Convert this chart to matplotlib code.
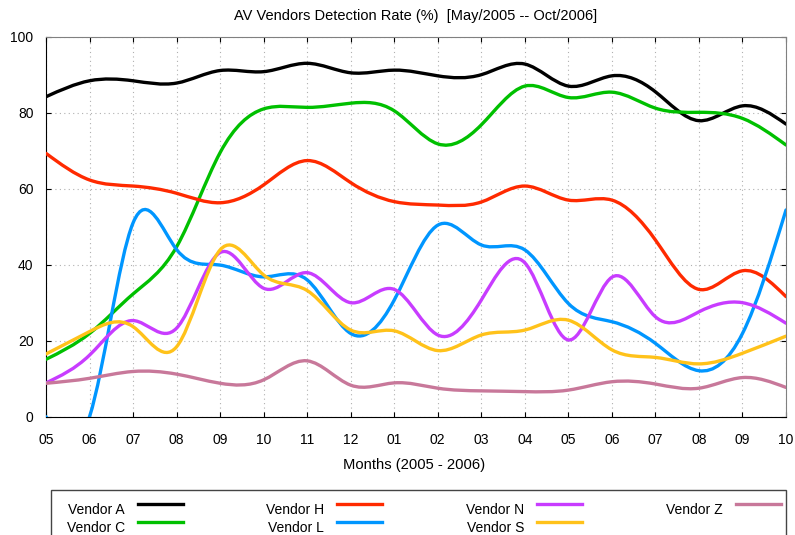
import numpy as np
import matplotlib
matplotlib.use("Agg")
import matplotlib.pyplot as plt
from matplotlib.path import Path
from matplotlib.patches import PathPatch, Rectangle
from matplotlib.lines import Line2D

plt.rcParams["font.family"] = ["Liberation Sans", "DejaVu Sans"]

# monthly detection rates (%), May 2005 .. Oct 2006
months = ["05", "06", "07", "08", "09", "10", "11", "12", "01",
          "02", "03", "04", "05", "06", "07", "08", "09", "10"]
vendor_a = [84.2, 88.4, 88.4, 87.8, 91.1, 90.8, 93.0, 90.5, 91.2,
            89.7, 90.0, 92.8, 87.0, 89.7, 85.5, 77.9, 81.8, 77.0]
vendor_c = [15.1, 21.9, 32.3, 44.7, 69.5, 81.0, 81.4, 82.5, 80.5,
            71.8, 76.8, 87.0, 84.0, 85.4, 81.2, 80.1, 78.5, 71.5]
vendor_h = [69.3, 62.3, 60.7, 58.8, 56.3, 61.0, 67.4, 61.6, 56.6,
            55.7, 56.5, 60.7, 57.0, 57.0, 46.5, 33.5, 38.4, 31.6]
vendor_l = [0.0, 0.0, 51.0, 44.0, 39.9, 36.8, 36.0, 21.9, 30.7,
            50.4, 45.2, 43.9, 29.8, 25.0, 19.3, 12.1, 21.9, 54.4]
vendor_n = [8.9, 16.2, 25.3, 23.3, 43.2, 33.8, 37.9, 30.0, 33.5,
            21.5, 30.7, 40.5, 20.2, 36.7, 26.3, 27.6, 30.0, 24.6]
vendor_s = [16.5, 22.4, 23.7, 18.4, 43.9, 37.3, 33.2, 22.8, 22.6,
            17.4, 21.5, 22.8, 25.4, 17.6, 15.6, 13.9, 16.7, 21.2]
vendor_z = [8.8, 10.1, 11.9, 11.2, 8.8, 9.7, 14.7, 8.3, 8.9,
            7.5, 6.8, 6.6, 7.0, 9.2, 8.6, 7.5, 10.3, 7.7]

names = ["Vendor A", "Vendor C", "Vendor H", "Vendor L",
         "Vendor N", "Vendor S", "Vendor Z"]
series = [vendor_a, vendor_c, vendor_h, vendor_l, vendor_n, vendor_s, vendor_z]
colors = ["#000000", "#00c000", "#ff2a00", "#0096ff",
          "#c83cff", "#ffc21a", "#c8789a"]


def spline_path(y):
    """Natural cubic spline through the points (gnuplot csplines),
    written as bezier segments so matplotlib draws the curve itself."""
    y = np.asarray(y, float)
    n = len(y)
    A = np.zeros((n, n))
    r = np.zeros(n)
    A[0, 0] = A[-1, -1] = 1
    for i in range(1, n - 1):
        A[i, i - 1:i + 2] = 1, 4, 1
        r[i] = 6 * (y[i + 1] - 2 * y[i] + y[i - 1])
    M = np.linalg.solve(A, r)
    verts = [(0, y[0])]
    codes = [Path.MOVETO]
    for i in range(n - 1):
        d = y[i + 1] - y[i]
        s0 = d - (2 * M[i] + M[i + 1]) / 6
        s1 = d + (M[i] + 2 * M[i + 1]) / 6
        verts += [(i + 1 / 3, y[i] + s0 / 3), (i + 2 / 3, y[i + 1] - s1 / 3),
                  (i + 1, y[i + 1])]
        codes += [Path.CURVE4] * 3
    return Path(verts, codes)


W, H = 795, 535
fig = plt.figure(figsize=(W / 100, H / 100), dpi=100)
ax = fig.add_axes([46 / W, 1 - 416.7 / H, 740 / W, 380 / H])

for vals, col in zip(series, colors):
    ax.add_patch(PathPatch(spline_path(vals), fill=False, edgecolor=col,
                           lw=2.4, capstyle="round", joinstyle="round", zorder=3))

x = np.arange(len(months))
ax.set_xlim(0, len(months) - 1)
ax.set_ylim(0, 100)
ax.set_xticks(x)
ax.set_xticklabels(months)
ax.set_yticks(np.arange(0, 101, 20))
ax.tick_params(direction="in", top=True, right=True, length=3.6, width=0.8,
               labelsize=10, color="black")
ax.tick_params(axis="x", pad=12)
ax.tick_params(axis="y", pad=9)
ax.grid(True, ls=(0, (1, 3)), color="#b0b0b0", lw=0.8)
ax.set_axisbelow(True)
for side in ("left", "bottom"):
    ax.spines[side].set_color("black")
for side in ("top", "right"):
    ax.spines[side].set_color("#808080")

ax.set_title("AV Vendors Detection Rate (%)  [May/2005 -- Oct/2006]",
             fontsize=10.5, pad=12)
ax.set_xlabel("Months (2005 - 2006)", fontsize=10.6)
ax.xaxis.set_label_coords(0.497, -0.11)

# gnuplot-style key box below the plot: label first, then the line sample
fig.add_artist(Rectangle((51 / W, -0.05), 735 / W, 1 - 490 / H + 0.05,
                         transform=fig.transFigure, fill=False,
                         ec="#444444", lw=1))
text_right = [125, 324, 524, 723]
row_y = [509.5, 527.5]
for k, (name, col) in enumerate(zip(names, colors)):
    c, r = divmod(k, 2)
    fig.text(text_right[c] / W, 1 - row_y[r] / H, name, ha="right",
             va="center", fontsize=10)
    ly = 1 - (row_y[r] - 5.5) / H
    fig.add_artist(Line2D([(text_right[c] + 13) / W, (text_right[c] + 58) / W],
                          [ly, ly], color=col, lw=2.4,
                          transform=fig.transFigure))

fig.savefig("out.png", dpi=100)
